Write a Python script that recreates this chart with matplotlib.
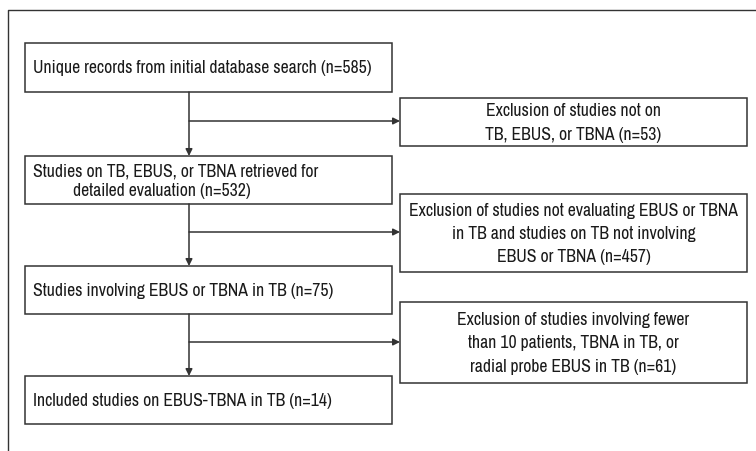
import matplotlib.pyplot as plt
from matplotlib.patches import Rectangle
from matplotlib import font_manager

# Flow chart contents
main_steps = [
    "Unique records from initial database search (n=585)",
    "Studies on TB, EBUS, or TBNA retrieved for\n          detailed evaluation (n=532)",
    "Studies involving EBUS or TBNA in TB (n=75)",
    "Included studies on EBUS-TBNA in TB (n=14)",
]
exclusions = [
    "Exclusion of studies not on\nTB, EBUS, or TBNA (n=53)",
    "Exclusion of studies not evaluating EBUS or TBNA\nin TB and studies on TB not involving\nEBUS or TBNA (n=457)",
    "Exclusion of studies involving fewer\nthan 10 patients, TBNA in TB, or\nradial probe EBUS in TB (n=61)",
]

# Layout (pixels)
main_y = [(44, 93), (157, 205), (267, 315), (377, 425)]
excl_y = [(99, 147), (195, 273), (303, 384)]
branch_y = [122, 233, 343]
left_x0, left_x1 = 25, 392
right_x0, right_x1 = 400, 747
trunk_x = 189

col = "#333333"
names = {f.name for f in font_manager.fontManager.ttflist}
narrow = [n for n in names if "Narrow" in n or "Condensed" in n]
fam = [sorted(narrow)[0] if narrow else "Roboto", "DejaVu Sans"]

fig = plt.figure(figsize=(7.56, 4.52), dpi=100)
ax = fig.add_axes([0, 0, 1, 1])
ax.set_xlim(0, 756)
ax.set_ylim(452, 0)
ax.axis("off")

# pick a size so the first label is about as wide as in the original
probe = ax.text(0, 0, main_steps[0], fontsize=12, family=fam)
fig.canvas.draw()
w = probe.get_window_extent().width
probe.remove()
fs = 12 * 337 / w

# outer frame (open on right and bottom)
ax.plot([8, 8, 756], [452, 11, 11], color=col, lw=1.0)

for txt, (y0, y1) in zip(main_steps, main_y):
    ax.add_patch(Rectangle((left_x0, y0), left_x1 - left_x0, y1 - y0,
                           fill=False, ec=col, lw=1.1))
    ax.text(left_x0 + 8, (y0 + y1) / 2, txt, ha="left", va="center",
            fontsize=fs, family=fam, color="#1a1a1a", linespacing=1.3)

for txt, (y0, y1) in zip(exclusions, excl_y):
    ax.add_patch(Rectangle((right_x0, y0), right_x1 - right_x0, y1 - y0,
                           fill=False, ec=col, lw=1.1))
    ax.text((right_x0 + right_x1) / 2, (y0 + y1) / 2, txt, ha="center",
            va="center", fontsize=fs, family=fam, color="#1a1a1a",
            linespacing=1.55)

# vertical arrows between main boxes
for i in range(3):
    ax.annotate("", xy=(trunk_x, main_y[i + 1][0]), xytext=(trunk_x, main_y[i][1]),
                arrowprops=dict(arrowstyle="-|>", color=col, lw=1.1,
                                mutation_scale=10, shrinkA=0, shrinkB=0))

# side arrows to exclusion boxes
for by in branch_y:
    ax.annotate("", xy=(right_x0, by), xytext=(trunk_x, by),
                arrowprops=dict(arrowstyle="-|>", color=col, lw=1.1,
                                mutation_scale=10, shrinkA=0, shrinkB=0))

fig.savefig("out.png", dpi=100)
